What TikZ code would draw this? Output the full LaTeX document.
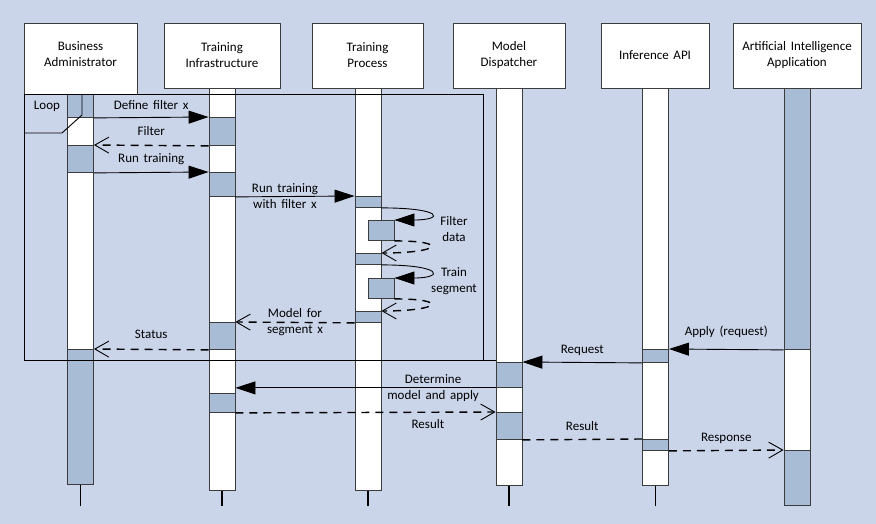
\documentclass[tikz,border=0pt]{standalone}
\usepackage{fontspec}
\setmainfont[WordSpace=1.6]{Carlito}
\usetikzlibrary{arrows.meta, positioning, calc}

\definecolor{Backdrop}{RGB}{203,213,234}
\definecolor{ActBlue}{RGB}{169,188,214}
\definecolor{Rim}{RGB}{60,60,60}

\tikzset{
  head/.style={draw=Rim, line width=0.9pt, fill=white, minimum height=65pt, align=center, inner sep=2pt},
  bar/.style={draw=Rim, line width=0.9pt, fill=white, minimum width=26pt, inner sep=0pt, anchor=north},
  act/.style={draw=Rim, line width=0.9pt, fill=ActBlue, minimum width=26pt, inner sep=0pt, anchor=north},
  stub/.style={line width=1.6pt},
  frame/.style={draw=black, line width=0.9pt},
  call/.style={line width=0.9pt, -{Triangle[length=20pt, width=13pt]}},
  reply/.style={line width=1.4pt, dash pattern=on 8pt off 6pt, -{Straight Barb[length=14pt, width=16pt, line width=0.9pt]}},
  lbl/.style={anchor=base, inner sep=0pt, yshift=9pt},
  pair/.style={align=center, inner sep=0pt}
}

\begin{document}
\begin{tikzpicture}[x=1pt, y=-1pt, font=\fontsize{13}{16}\selectfont]
  \fill[Backdrop] (0,0) rectangle (876,524);
  \useasboundingbox (0,0) rectangle (876,524);

  % participants
  \node[head, minimum width=113pt, minimum height=71pt, text depth=8pt] (ba) at (80.5,58.5) {Business\\Administrator};
  \node[head, minimum width=116pt] (ti) at (222,55.5) {Training\\Infrastructure};
  \node[head, minimum width=111pt] (tp) at (367.5,55.5) {Training\\Process};
  \node[head, minimum width=112pt] (md) at (509,55.5) {Model\\Dispatcher};
  \node[head, minimum width=108pt] (ia) at (655,55.5) {Inference API};
  \node[head, minimum width=128pt] (ai) at (797,55.5) {Artificial Intelligence\\Application};

  % lifelines
  \node[bar, minimum height=390pt] (baL) at (80.5,94) {};
  \node[bar, minimum height=402pt] (tiL) at (222,88) {};
  \node[bar, minimum height=402pt] (tpL) at (368,88) {};
  \node[bar, minimum height=397pt] (mdL) at (509,88) {};
  \node[bar, minimum height=397pt] (iaL) at (655.5,88) {};
  \node[bar, minimum height=417pt] (aiL) at (797,88) {};

  \coordinate (floor) at (0,506);
  \foreach \b in {baL,tiL,tpL,mdL,iaL}
    \draw[stub] (\b.south) -- (\b.south |- floor);

  % activations
  \foreach \n/\x/\y/\h in {baA1/80.5/94/23, baA2/80.5/145/27, baA3/80.5/349/135,
      tiA1/222/117/28, tiA2/222/172/24, tiA3/222/322/27, tiA4/222/393/19,
      tpA1/368/196/11, tpA2/368/253/11, tpA3/368/311/11, tpN1/381/220/20, tpN2/381/278/20,
      mdA1/509/362/25, mdA2/509/412/27, iaA1/655.5/349/13, iaA2/655.5/439/11,
      aiA1/797/88/261, aiA2/797/450/55}
    \node[act, minimum height=\h pt] (\n) at (\x,\y) {};

  % loop frame
  \draw[frame] (483,360) |- (24,94) |- (496,360);
  \draw[frame] (24,133) -- (62,133) -- (82,115) -- (82,94);
  \node (loop) at (47,106) {Loop};

  % training messages
  \draw[call] (baA1.south east) -- node[lbl, yshift=-1pt] {Define filter x} (tiA1.north west);
  \draw[reply] (tiA1.south west) -- node[lbl, yshift=1pt] {Filter} (baA2.north east);
  \draw[call] (baA2.south east) -- node[lbl, yshift=1pt] {Run training} (tiA2.north west);
  \draw[call] (tiA2.south east) -- node[pair, xshift=-10pt] {Run training\\with filter x} (tpA1.north west);

  \draw[call] (tpA1.south east) .. controls +(62,0) and +(50,0) .. (tpN1.north east);
  \draw[reply] (tpN1.south east) .. controls +(55,0) and +(60,0) .. (tpA2.north east);
  \node[pair] (filt) at (454,229) {Filter\\data};
  \draw[call] (tpA2.south east) .. controls +(62,0) and +(50,0) .. (tpN2.north east);
  \draw[reply] (tpN2.south east) .. controls +(55,0) and +(60,0) .. (tpA3.north east);
  \node[pair] (trn) at (454,281) {Train\\segment};

  \draw[reply] (tpA3.south west) -- node[pair] {Model for\\segment x} (tiA3.north east);
  \draw[reply] (tiA3.south west) -- node[lbl, yshift=2pt] {Status} (baA3.north east);

  % inference messages
  \draw[call] (aiA1.south west) -- node[lbl, yshift=5pt] {Apply (request)} (iaA1.north east);
  \draw[call] (iaA1.south west) -- node[lbl] {Request} (mdA1.north east);
  \draw[call] (mdA1.south west) -- node[pair, pos=0.24] {Determine\\model and apply} (tiL.east |- mdA1.south west);
  \draw[reply] (tiA4.south east) -- node[lbl, pos=0.74, yshift=-25pt] {Result} (mdA2.north west);
  \draw[reply, -] (mdA2.south east) -- node[lbl] {Result} (iaA2.north west);
  \draw[reply] (iaA2.south east) -- node[lbl] {Response} (aiA2.north west);
\end{tikzpicture}
\end{document}
